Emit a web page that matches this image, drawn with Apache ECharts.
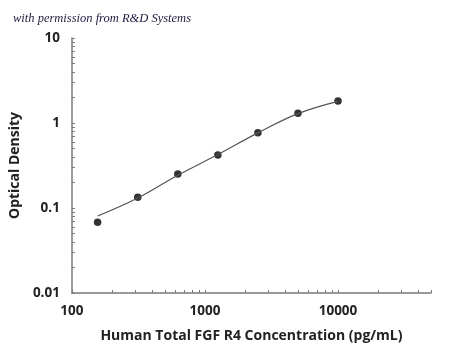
<!DOCTYPE html>
<html><head><meta charset="utf-8">
<script src="https://cdn.jsdelivr.net/npm/echarts@6/dist/echarts.min.js"></script>
<style>html,body{margin:0;padding:0;background:#fff}#c{width:450px;height:348px}</style>
</head><body><div id="c"></div>
<script>
const concentrations = [156, 312.5, 625, 1250, 2500, 5000, 10000];
const opticalDensity = [0.068, 0.134, 0.251, 0.42, 0.77, 1.30, 1.81];
const curveX = [156, 312.5, 625, 1250, 2500, 5000, 10000];
const curveY = [0.0805, 0.131, 0.243, 0.425, 0.765, 1.29, 1.80];
const xLabels = [100, 1000, 10000];
const yLabels = [0.01, 0.1, 1, 10];
const xTicks = [100,200,300,400,500,600,700,800,900,1000,2000,3000,4000,5000,6000,7000,8000,9000,10000,20000,30000,40000,50000];
const yTicks = [0.01,0.02,0.03,0.04,0.05,0.06,0.07,0.08,0.09,0.1,0.2,0.3,0.4,0.5,0.6,0.7,0.8,0.9,1,2,3,4,5,6,7,8,9,10];

const chart = echarts.init(document.getElementById('c'), null, {renderer:'canvas'});
const axisCol = '#7a7a7a';
const txt = '#222';
chart.setOption({
  animation: false,
  title: {
    text: 'with permission from R&D Systems',
    left: 8, top: 7,
    textStyle: {fontFamily: 'Liberation Serif', fontStyle: 'italic', fontWeight: 'normal', fontSize: 12.5, color: '#1c1c40'}
  },
  grid: {left: 66, right: 19, top: 38, bottom: 55, containLabel: false},
  xAxis: {
    type: 'log', logBase: 10, min: 100, max: 50000,
    name: 'Human Total FGF R4 Concentration (pg/mL)',
    nameLocation: 'middle', nameGap: 36,
    nameTextStyle: {fontFamily: 'Open Sans', fontWeight: 'bold', fontSize: 14, color: txt},
    axisLine: {lineStyle: {color: axisCol, width: 1.5}},
    axisTick: {show: true, inside: true, length: 3, customValues: xTicks, lineStyle: {color: axisCol, width: 1}},
    axisLabel: {customValues: xLabels, margin: 11, fontFamily: 'Open Sans', fontWeight: 'bold', fontSize: 13.5, color: txt, formatter: v => String(v)},
    splitLine: {show: false}, minorTick: {show: false}
  },
  yAxis: {
    type: 'log', logBase: 10, min: 0.01, max: 10,
    name: 'Optical Density',
    nameLocation: 'middle', nameGap: 48,
    nameTextStyle: {fontFamily: 'Open Sans', fontWeight: 'bold', fontSize: 14, color: txt},
    axisLine: {show: true, lineStyle: {color: axisCol, width: 1.5}},
    axisTick: {show: true, inside: true, length: 3, customValues: yTicks, lineStyle: {color: axisCol, width: 1}},
    axisLabel: {customValues: yLabels, margin: 12, fontFamily: 'Open Sans', fontWeight: 'bold', fontSize: 13.5, color: txt, formatter: v => String(v)},
    splitLine: {show: false}, minorTick: {show: false}
  },
  series: [
    {
      type: 'line', smooth: 0.4, showSymbol: false, silent: true,
      data: curveX.map((x, i) => [x, curveY[i]]),
      lineStyle: {color: '#555', width: 1.2}
    },
    {
      type: 'scatter', symbol: 'circle', symbolSize: 7.5,
      data: concentrations.map((x, i) => [x, opticalDensity[i]]),
      itemStyle: {color: '#000'}
    }
  ]
});
</script></body></html>
